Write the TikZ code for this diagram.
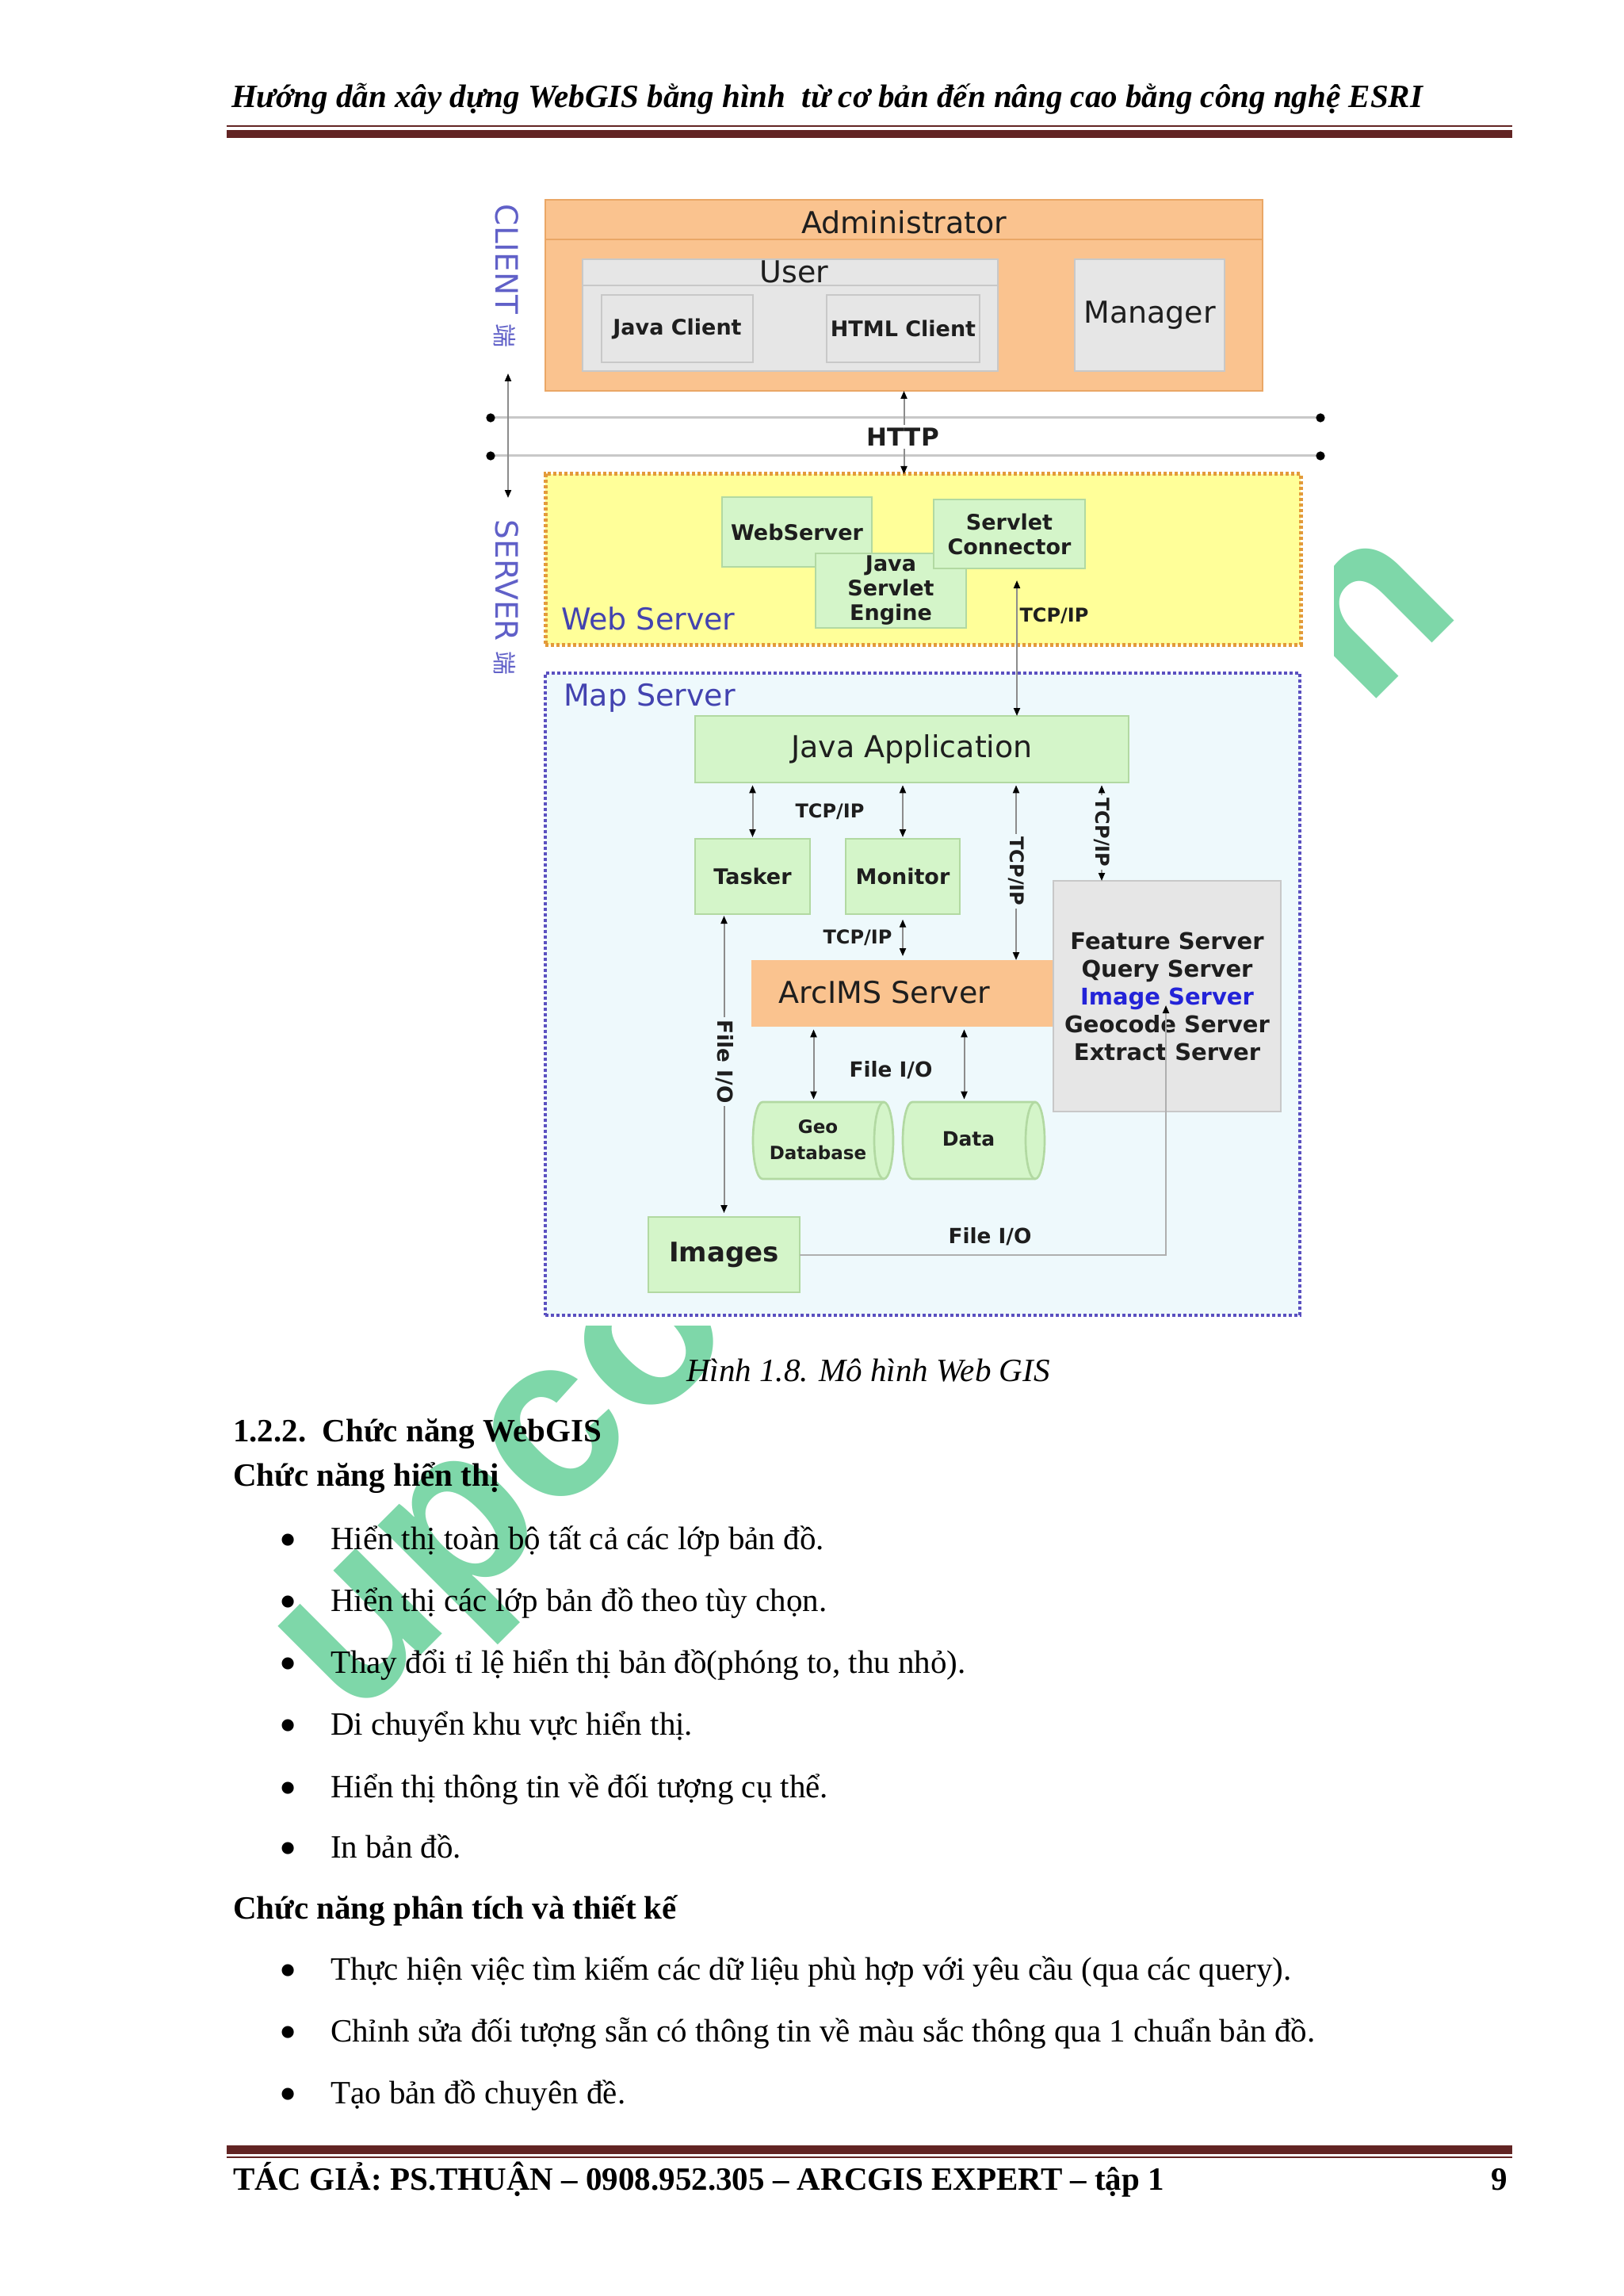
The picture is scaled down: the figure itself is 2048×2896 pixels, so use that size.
\documentclass[tikz,border=0pt]{standalone}
\usepackage{fontspec}
\setmainfont{Liberation Serif}
\newfontfamily\dvf{DejaVu Sans}
\newfontfamily\wmf{Liberation Sans}
\newfontfamily\cjkf{Noto Sans CJK SC}
\usetikzlibrary{arrows.meta}
\definecolor{maroon}{HTML}{622423}
\definecolor{orgF}{HTML}{FAC38F}
\definecolor{orgD}{HTML}{EAA766}
\definecolor{yelF}{HTML}{FFFF99}
\definecolor{yelD}{HTML}{E39A3A}
\definecolor{mapF}{HTML}{EEF9FC}
\definecolor{mapD}{HTML}{5A50C0}
\definecolor{grnF}{HTML}{D4F5C9}
\definecolor{grnD}{HTML}{B2D9A2}
\definecolor{gryF}{HTML}{E6E6E6}
\definecolor{gryD}{HTML}{C8C8C8}
\definecolor{txtD}{HTML}{1E1E1E}
\definecolor{bluL}{HTML}{4343B0}
\definecolor{bluC}{HTML}{6060C8}
\definecolor{bluI}{HTML}{2323D8}
\definecolor{lineG}{HTML}{8C8C8C}
\definecolor{httpG}{HTML}{C8C8C8}
\definecolor{wmG}{HTML}{7ED7A9}
\tikzset{
  every node/.style={inner sep=0pt,outer sep=0pt},
  grn/.style={fill=grnF,draw=grnD,line width=0.8pt},
  gry/.style={fill=gryF,draw=gryD,line width=0.8pt},
  org/.style={fill=orgF,draw=orgD,line width=0.5pt},
  arr/.style={draw=lineG,line width=0.6pt,{Triangle[length=3pt,width=2.4pt,color=black]}-{Triangle[length=3pt,width=2.4pt,color=black]}},
  arrend/.style={draw=lineG!70,line width=0.6pt,-{Triangle[length=3pt,width=2.4pt,color=black]}},
  lbl/.style={font=\dvf\bfseries\fontsize{8.1pt}{9.3pt}\selectfont,text=txtD,align=center},
  tcp/.style={font=\dvf\bfseries\fontsize{7.2pt}{8pt}\selectfont,text=txtD},
  fio/.style={font=\dvf\bfseries\fontsize{7.9pt}{9pt}\selectfont,text=txtD},
  big/.style={font=\dvf\fontsize{11.4pt}{13pt}\selectfont,text=txtD},
  blu/.style={font=\dvf\fontsize{11.4pt}{13pt}\selectfont,text=bluL},
  side/.style={font=\dvf\fontsize{11.7pt}{13pt}\selectfont,text=bluC,rotate=-90,anchor=west},
  body/.style={font=\fontsize{12.3pt}{14pt}\selectfont,anchor=base west},
  bodyb/.style={font=\bfseries\fontsize{12.3pt}{14pt}\selectfont,anchor=base west},
  bul/.style={font=\fontsize{19pt}{20pt}\selectfont,anchor=base},
}
\newcommand\bx[7]{%
  \pgfmathsetmacro\bxw{(#5-#3)*0.3}%
  \pgfmathsetmacro\bxh{(#6-#4)*0.3}%
  \node[#1,minimum width=\bxw pt,minimum height=\bxh pt,inner sep=0pt] (#2) at ({(#3+#5)/2},{(#4+#6)/2}) {#7};}
\newcommand\cyl[5]{%
  \bx{draw=none}{#1}{#2}{#3}{#4}{#5}{}%
  \pgfmathsetmacro\cyry{(#5-#3)*0.15}%
  \draw[grn] ([xshift=-3.6pt]#1.north east) -- ([xshift=3.6pt]#1.north west) arc[start angle=90,end angle=270,x radius=3.6pt,y radius=\cyry pt] -- ([xshift=-3.6pt]#1.south east) arc[start angle=-90,end angle=90,x radius=3.6pt,y radius=\cyry pt] -- cycle;
  \draw[draw=grnD,line width=0.8pt] ([xshift=-3.6pt]#1.north east) arc[start angle=90,end angle=270,x radius=3.6pt,y radius=\cyry pt];}
\begin{document}
\begin{tikzpicture}[x=0.3pt,y=-0.3pt]
\useasboundingbox (0,0) rectangle (2048,2896);
\fill[white] (0,0) rectangle (2048,2896);
% watermark
\node[rotate=45,anchor=base west,text=wmG,font=\wmf\bfseries\fontsize{87pt}{87pt}\selectfont] (wm) at (446,2172) {upcontents.vn};
% diagram image background
\fill[white] (600,225) rectangle (1683,1672);
% ---------- client ----------
\bx{org}{admin}{688}{252}{1593}{493}{}
\draw[orgD,line width=0.8pt] (688,302) -- (1593,302);
\node[big] (admintxt) at (1141,280) {Administrator};
\bx{gry}{user}{735}{327}{1259}{468}{}
\draw[gryD,line width=0.8pt] (735,360) -- (1259,360);
\node[big] (usertxt) at (1002,343) {User};
\bx{gry,lbl}{jclient}{759}{372}{950}{457}{Java Client}
\bx{gry,lbl}{hclient}{1043}{372}{1236}{457}{HTML Client}
\bx{gry,big}{manager}{1356}{327}{1545}{468}{Manager}
% HTTP lines
\coordinate (h1l) at (619,527); \coordinate (h1r) at (1666,527);
\coordinate (h2l) at (619,575); \coordinate (h2r) at (1666,575);
\draw[httpG,line width=0.9pt] (h1l) -- (h1r);
\draw[httpG,line width=0.9pt] (h2l) -- (h2r);
\foreach \p in {h1l,h1r,h2l,h2r} \fill[black] (\p) circle[radius=1.7pt];
% side labels
\coordinate (la1) at (641,471); \coordinate (la2) at (641,628);
\draw[arr] (la1) -- (la2);
\node[side] (client) at (639,258) {CLIENT {\cjkf\fontsize{9pt}{9pt}\selectfont 端}};
\node[side] (server) at (639,656) {SERVER {\cjkf\fontsize{9pt}{9pt}\selectfont 端}};
% ---------- web server ----------
\bx{fill=yelF,draw=yelD,line width=1.5pt,dash pattern=on 1.2pt off 0.9pt}{web}{688}{598}{1641}{813}{}
\node[blu,anchor=west] (weblbl) at (708,780) {Web Server};
\bx{grn,lbl}{websrv}{911}{627}{1100}{715}{WebServer}
\bx{grn,lbl}{jse}{1029}{698}{1219}{792}{Java\\Servlet\\Engine}
\bx{grn,lbl}{sconn}{1178}{630}{1369}{717}{Servlet\\Connector}
\draw[arr] (admin.south) -- (admin.south |- web.north);
\node[font=\dvf\bfseries\fontsize{9.3pt}{10pt}\selectfont,text=txtD,fill=white,inner sep=1pt] (http) at (1139,551) {HTTP};
% ---------- map server ----------
\bx{fill=mapF,draw=mapD,line width=1.2pt,dash pattern=on 1.2pt off 0.9pt}{map}{688}{849}{1640}{1659}{}
\node[blu,anchor=west] (maplbl) at (711,880) {Map Server};
\bx{grn,big}{japp}{877}{903}{1424}{987}{Java Application}
\coordinate (c0) at (1283,0);
\draw[arr,shorten <=4.5pt] (c0 |- sconn.south) -- (c0 |- japp.north);
\node[tcp] (tcp0) at (1330,777) {TCP/IP};
\bx{grn,lbl}{tasker}{877}{1058}{1022}{1153}{Tasker}
\bx{grn,lbl}{monitor}{1067}{1058}{1211}{1153}{Monitor}
\bx{fill=orgF}{arcims}{948}{1211}{1329}{1295}{}
\node[big] (arcimstxt) at (1116,1252) {ArcIMS Server};
\bx{gry,font=\dvf\bfseries\fontsize{8.7pt}{10.5pt}\selectfont,text=txtD,align=center}{feat}{1329}{1111}{1616}{1402}{Feature Server\\Query Server\\\textcolor{bluI}{Image Server}\\Geocode Server\\Extract Server}
\cyl{geo}{950}{1390}{1127}{1487}
\cyl{data}{1139}{1390}{1318}{1487}
\node[font=\dvf\bfseries\fontsize{6.9pt}{9.9pt}\selectfont,align=center,text=txtD] (geotxt) at (1032,1438) {Geo\\Database};
\node[font=\dvf\bfseries\fontsize{7.5pt}{9pt}\selectfont,text=txtD] (datatxt) at (1222,1437) {Data};
\bx{grn,font=\dvf\bfseries\fontsize{10.2pt}{11pt}\selectfont,text=txtD}{images}{818}{1535}{1009}{1630}{Images}
% arrows in map server
\draw[arr,shorten <=1pt,shorten >=0.6pt] (tasker.north |- japp.south) -- (tasker.north);
\draw[arr,shorten <=1pt,shorten >=0.6pt] (monitor.north |- japp.south) -- (monitor.north);
\node[tcp] (tcp1) at (1047,1024) {TCP/IP};
\coordinate (c1) at (1282,0);
\draw[arr,shorten <=1pt] (c1 |- japp.south) -- (c1 |- arcims.north);
\node[tcp,rotate=-90,fill=mapF,inner sep=1pt] (tcp2) at (1282,1099) {TCP/IP};
\coordinate (c2) at (1390,0);
\draw[arr,shorten <=1pt] (c2 |- japp.south) -- (c2 |- feat.north);
\node[tcp,rotate=-90,fill=mapF,inner sep=1pt] (tcp3) at (1390,1050) {TCP/IP};
\draw[arr,shorten <=2pt,shorten >=1.5pt] (monitor.south) -- (monitor.south |- arcims.north);
\node[tcp] (tcp4) at (1082,1183) {TCP/IP};
\draw[arr,shorten <=0.6pt,shorten >=1.5pt] (images.north |- tasker.south) -- (images.north);
\node[fio,rotate=-90,fill=mapF,inner sep=1pt] (fio1) at (914,1339) {File I/O};
\coordinate (geoT) at ([xshift=-3.6pt]geo.north);
\coordinate (dataT) at ([xshift=-3.6pt]data.north);
\draw[arr,shorten <=1pt,shorten >=1pt] (geoT |- arcims.south) -- (geoT);
\draw[arr,shorten <=1pt,shorten >=1pt] (dataT |- arcims.south) -- (dataT);
\node[fio] (fio2) at (1124,1350) {File I/O};
\coordinate (fend) at (1471,1268);
\draw[arrend] (images.east) -| (fend);
\node[fio] (fio3) at (1249,1560) {File I/O};
% ---------- page text ----------
\node[font=\bfseries\itshape\fontsize{12.3pt}{14pt}\selectfont,anchor=base west] (hdr) at (292,136) {Hướng dẫn xây dựng WebGIS bằng hình\ \ từ cơ bản đến nâng cao bằng công nghệ ESRI};
\fill[maroon] (286,158.5) rectangle (1908,160.5);
\fill[maroon] (286,164.5) rectangle (1908,174);
\node[font=\itshape\fontsize{12.3pt}{14pt}\selectfont,anchor=base west] (cap) at (866,1742) {Hình 1.8. Mô hình Web GIS};
\node[bodyb] (sec) at (294,1818) {1.2.2.\hspace{0.5em}Chức năng WebGIS};
\node[bodyb] (sub1) at (294,1874) {Chức năng hiển thị};
\node[bul] (b1) at (364,1963) {•}; \node[body] (t1) at (417,1954) {Hiển thị toàn bộ tất cả các lớp bản đồ.};
\node[bul] (b2) at (364,2041) {•}; \node[body] (t2) at (417,2032) {Hiển thị các lớp bản đồ theo tùy chọn.};
\node[bul] (b3) at (364,2119) {•}; \node[body] (t3) at (417,2110) {Thay đổi tỉ lệ hiển thị bản đồ(phóng to, thu nhỏ).};
\node[bul] (b4) at (364,2197) {•}; \node[body] (t4) at (417,2188) {Di chuyển khu vực hiển thị.};
\node[bul] (b5) at (364,2276) {•}; \node[body] (t5) at (417,2267) {Hiển thị thông tin về đối tượng cụ thể.};
\node[bul] (b6) at (364,2352) {•}; \node[body] (t6) at (417,2343) {In bản đồ.};
\node[bodyb] (sub2) at (294,2420) {Chức năng phân tích và thiết kế};
\node[bul] (b7) at (364,2506) {•}; \node[body] (t7) at (417,2497) {Thực hiện việc tìm kiếm các dữ liệu phù hợp với yêu cầu (qua các query).};
\node[bul] (b8) at (364,2584) {•}; \node[body] (t8) at (417,2575) {Chỉnh sửa đối tượng sẵn có thông tin về màu sắc thông qua 1 chuẩn bản đồ.};
\node[bul] (b9) at (364,2662) {•}; \node[body] (t9) at (417,2653) {Tạo bản đồ chuyên đề.};
\fill[maroon] (286,2706) rectangle (1908,2716.5);
\fill[maroon] (286,2720) rectangle (1908,2722);
\node[bodyb] (ftr) at (294,2762) {TÁC GIẢ: PS.THUẬN – 0908.952.305 – ARCGIS EXPERT – tập 1};
\node[font=\bfseries\fontsize{12.3pt}{14pt}\selectfont,anchor=base east] (pg) at (1902,2762) {9};
\end{tikzpicture}
\end{document}
